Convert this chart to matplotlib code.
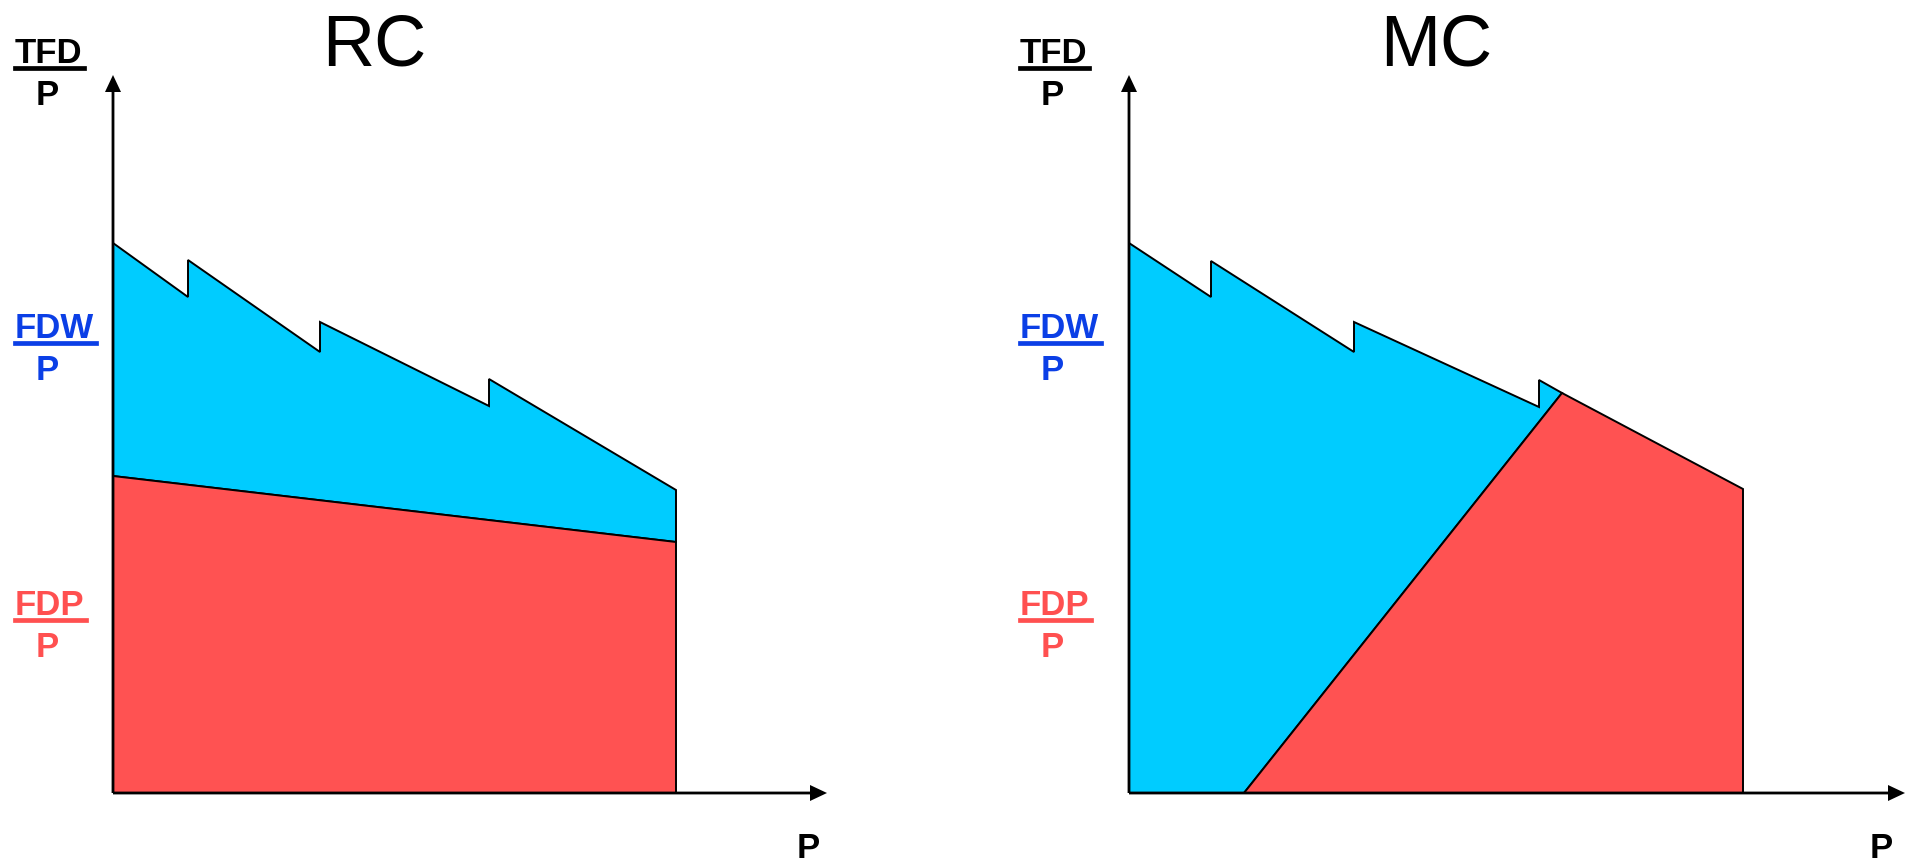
import matplotlib
matplotlib.use("Agg")
import matplotlib.pyplot as plt
from matplotlib.lines import Line2D

# ---------------- data (P on x, value/P on y; units ~ pixels of the reference) ----
rc_top_x = [0, 75, 75, 207, 207, 376, 376, 563]
rc_top_y = [550, 496, 533, 441, 471, 387, 414, 303]
rc_fdp_x = [0, 563]
rc_fdp_y = [317, 251]

mc_top_x = [0, 82, 82, 225, 225, 410, 410, 433]
mc_top_y = [550, 496, 532, 441, 471, 386, 413, 400]
mc_fdp_x = [115, 433, 614]
mc_fdp_y = [0, 400, 304]

titles = ["RC", "MC"]
ylabels = [("TFD", "P", "black"), ("FDW", "P", "#0B3FE6"), ("FDP", "P", "#FF5050")]
xlabel = "P"

BLUE = "#00CCFF"
RED = "#FF5252"

W, H = 1905, 865
fig = plt.figure(figsize=(W / 100, H / 100), dpi=100)
plt.rcParams['font.family'] = ['Liberation Sans', 'DejaVu Sans']


def fx(px):
    return px / W


def fy(py):
    return 1 - py / H


def make_axes(origin_x, xlen, ylen=718):
    ax = fig.add_axes([fx(origin_x), fy(793), (xlen + 5) / W, (ylen + 5) / H])
    ax.set_xlim(0, xlen + 5)
    ax.set_ylim(0, ylen + 5)
    ax.axis('off')
    return ax


def draw_axes_arrows(ax, xlen, ylen=718):
    kw = dict(width=2.8, head_width=16, head_length=17, length_includes_head=True,
              fc='black', ec='black', lw=0, clip_on=False, zorder=5)
    ax.arrow(0, 0, xlen, 0, **kw)
    ax.arrow(0, 0, 0, ylen, **kw)


# ---------------- RC panel ----------------
ax1 = make_axes(113, 714)
blue_x = rc_top_x + [rc_fdp_x[1], rc_fdp_x[0]]
blue_y = rc_top_y + [rc_fdp_y[1], rc_fdp_y[0]]
ax1.fill(blue_x, blue_y, facecolor=BLUE, edgecolor='black', lw=1.4, zorder=2)
red_x = [rc_fdp_x[0], rc_fdp_x[1], rc_fdp_x[1], rc_fdp_x[0]]
red_y = [rc_fdp_y[0], rc_fdp_y[1], 0, 0]
ax1.fill(red_x, red_y, facecolor=RED, edgecolor='black', lw=1.4, zorder=3)
draw_axes_arrows(ax1, 714)

# ---------------- MC panel ----------------
ax2 = make_axes(1129, 776)
blue_x = [0] + mc_top_x + [mc_fdp_x[0]]
blue_y = [0] + mc_top_y + [mc_fdp_y[0]]
ax2.fill(blue_x, blue_y, facecolor=BLUE, edgecolor='black', lw=1.4, zorder=2)
red_x = mc_fdp_x + [mc_fdp_x[-1]]
red_y = mc_fdp_y + [0]
ax2.fill(red_x, red_y, facecolor=RED, edgecolor='black', lw=1.4, zorder=3)
draw_axes_arrows(ax2, 776)

# ---------------- titles ----------------
fig.text(fx(374), fy(65), titles[0], fontsize=52, ha='center', va='baseline')
fig.text(fx(1436), fy(65), titles[1], fontsize=52, ha='center', va='baseline')

# ---------------- fraction labels on the y axes ----------------
label_rows = [(63, 68, 105), (338, 343, 380), (615, 620, 657)]
under_len = [69, 81, 71]
for left in (15, 1020):
    for (num, den, col), (base, uline, pbase), ul in zip(ylabels, label_rows, under_len):
        fig.text(fx(left), fy(base), num, fontsize=25, fontweight='bold',
                 color=col, ha='left', va='baseline')
        fig.add_artist(Line2D([fx(left), fx(left + ul)], [fy(uline), fy(uline)],
                              color=col, lw=3.4, transform=fig.transFigure))
        fig.text(fx(left + 32), fy(pbase), den, fontsize=25, fontweight='bold',
                 color=col, ha='center', va='baseline')

# ---------------- x-axis labels ----------------
fig.text(fx(808), fy(858), xlabel, fontsize=25, fontweight='bold', ha='center', va='baseline')
fig.text(fx(1881), fy(858), xlabel, fontsize=25, fontweight='bold', ha='center', va='baseline')

fig.savefig("out.png", dpi=100, facecolor='white')
